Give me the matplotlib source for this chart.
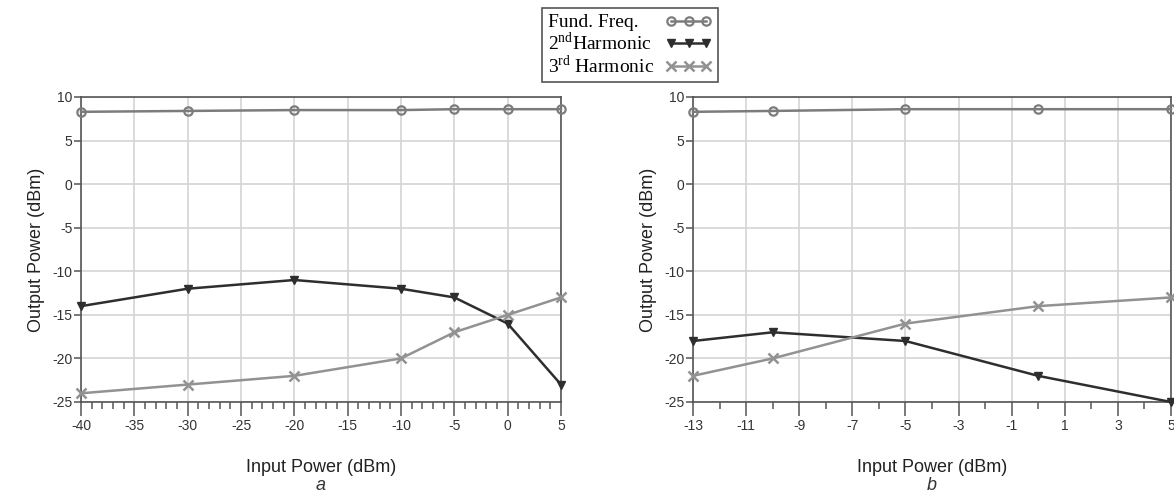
import numpy as np
import matplotlib
matplotlib.use("Agg")
import matplotlib.pyplot as plt
from matplotlib.ticker import MultipleLocator, FixedLocator

# data
x_a = [-40, -30, -20, -10, -5, 0, 5]
fund_a = [8.3, 8.4, 8.5, 8.5, 8.6, 8.6, 8.6]
harm2_a = [-14, -12, -11, -12, -13, -16, -23]
harm3_a = [-24, -23, -22, -20, -17, -15, -13]

x_b = [-13, -10, -5, 0, 5]
fund_b = [8.3, 8.4, 8.6, 8.6, 8.6]
harm2_b = [-18, -17, -18, -22, -25]
harm3_b = [-22, -20, -16, -14, -13]

ticks_a = np.arange(-40, 6, 5)
ticks_b = np.arange(-13, 6, 2)

labels = ["Fund. Freq.", r"2$^{\mathrm{nd}}$Harmonic", r"3$^{\mathrm{rd}}$ Harmonic"]

plt.rcParams["font.family"] = ["Liberation Sans", "DejaVu Sans"]
plt.rcParams["mathtext.fontset"] = "custom"
plt.rcParams["mathtext.rm"] = "Liberation Serif"
plt.rcParams["axes.unicode_minus"] = False

fig = plt.figure(figsize=(11.74, 4.92), dpi=100)
ax_a = fig.add_axes([81 / 1174, 1 - 402 / 492, 480 / 1174, 305 / 492])
ax_b = fig.add_axes([693 / 1174, 1 - 402 / 492, 478 / 1174, 305 / 492])

styles = [
    dict(color="#7c7c7c", marker="o", markerfacecolor="none", markersize=6, markeredgewidth=1.6),
    dict(color="#2e2e2e", marker="v", markerfacecolor="#2e2e2e", markersize=5.5),
    dict(color="#929292", marker="x", markersize=7, markeredgewidth=1.8),
]


def style_axes(ax, xlo, xhi, ticks):
    ax.set_xlim(xlo, xhi)
    ax.set_ylim(-25, 10)
    ax.xaxis.set_major_locator(FixedLocator(ticks))
    ax.xaxis.set_minor_locator(MultipleLocator(1))
    ax.yaxis.set_major_locator(MultipleLocator(5))
    ax.grid(True, which="major", color="#d4d4d4", linewidth=1.2)
    ax.set_axisbelow(True)
    for s in ax.spines.values():
        s.set_color("#555555")
        s.set_linewidth(1.2)
    ax.tick_params(axis="x", which="major", direction="out", length=10, width=1.1,
                   color="#555555", labelsize=10, pad=2, labelcolor="#333333")
    ax.tick_params(axis="x", which="minor", direction="out", length=5, width=1.1,
                   color="#555555")
    ax.tick_params(axis="y", which="major", direction="out", length=5, width=1.1,
                   color="#555555", labelsize=10, pad=1, labelcolor="#333333")
    ax.set_ylabel("Output Power (dBm)", fontsize=13, labelpad=5, color="#222222")
    ax.set_xlabel("Input Power (dBm)", fontsize=13, labelpad=19, color="#222222")


lines = []
for ax, x, series in [(ax_a, x_a, [fund_a, harm2_a, harm3_a]),
                      (ax_b, x_b, [fund_b, harm2_b, harm3_b])]:
    for y, st, lab in zip(series, styles, labels):
        ln, = ax.plot(x, y, linewidth=1.8, clip_on=False, zorder=3, label=lab, **st)
        if ax is ax_a:
            lines.append(ln)

style_axes(ax_a, -40, 5, ticks_a)
style_axes(ax_b, -13, 5, ticks_b)

fig.text((81 + 561) / 2 / 1174, 1 - 485 / 492, "a", style="italic", fontsize=13,
         ha="center", va="center", color="#333333")
fig.text((693 + 1171) / 2 / 1174, 1 - 485 / 492, "b", style="italic", fontsize=13,
         ha="center", va="center", color="#333333")

leg = fig.legend(lines, labels, loc="upper center", bbox_to_anchor=(630 / 1174, 1 - 8 / 492),
                 borderaxespad=0, numpoints=3, markerfirst=False, handlelength=2.4,
                 handletextpad=0.4, labelspacing=0.0, borderpad=0.3, fancybox=False,
                 framealpha=1, edgecolor="#555555",
                 prop={"family": "Liberation Serif", "size": 14})
leg.get_frame().set_linewidth(1.2)

# left-align the label texts while keeping the line samples on the right
try:
    column = leg._legend_handle_box.get_children()[0]
    for item in column.get_children():
        item.mode = "expand"
        item.width = 164
    column.align = "left"
except Exception:
    pass

fig.savefig("out.png", dpi=100)
